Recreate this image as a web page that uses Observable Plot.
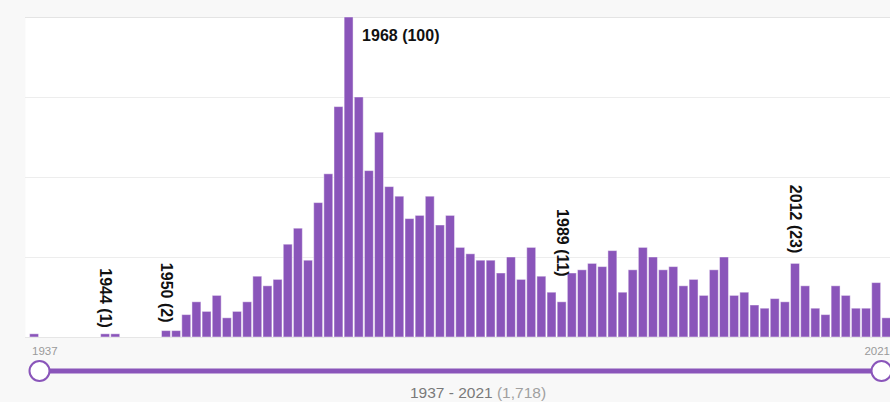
<!DOCTYPE html>
<html>
<head>
<meta charset="utf-8">
<script src="https://cdn.jsdelivr.net/npm/d3@7"></script>
<script src="https://cdn.jsdelivr.net/npm/@observablehq/plot@0.6"></script>
<style>
  html, body { margin: 0; padding: 0; background: #f8f8f8; width: 890px; height: 402px; overflow: hidden; font-family: "Liberation Sans", Arial, sans-serif; }
  #chart svg { display: block; overflow: visible; }
</style>
</head>
<body>
<div id="chart"></div>
<div id="slider"></div>
<script>
// Years covered by the histogram
const years = d3.range(1937, 2022);
// Count per year (1937 ... 2021)
const counts = [
  1, 0, 0, 0, 0, 0, 0, 1, 1, 0,          // 1937-1946
  0, 0, 0, 2, 2, 7, 11, 8, 13, 6,        // 1947-1956
  8, 11, 19, 16, 18, 29, 34, 24, 42, 51, // 1957-1966
  72, 100, 75, 52, 64, 47, 44, 37, 38, 44, // 1967-1976
  35, 38, 28, 26, 24, 24, 20, 25, 18, 28, // 1977-1986
  19, 14, 11, 20, 21, 23, 22, 27, 14, 21, // 1987-1996
  28, 25, 21, 22, 16, 18, 13, 21, 25, 13, // 1997-2006
  14, 10, 9, 12, 11, 23, 16, 9, 7, 16,    // 2007-2016
  13, 9, 9, 17, 6                         // 2017-2021
];
// Annotated years (vertical labels) and where, in count units, each label ends
const labelYears = [1944, 1950, 1989, 2012];
const labelAnchor = [3, 4.7, 19, 26.3];
// Peak annotation
const peakYear = 1968;

const rows = years.map((year, i) => ({year, count: counts[i]}));
const byYear = new Map(rows.map(d => [d.year, d.count]));
const labels = labelYears.map((year, i) => ({year, at: labelAnchor[i], text: `${year} (${byYear.get(year)})`}));
const peak = [{year: peakYear, count: byYear.get(peakYear), text: `${peakYear} (${byYear.get(peakYear)})`}];
const total = d3.sum(counts);

const purple = "#8a55ba";

const chart = Plot.plot({
  width: 890,
  height: 340,
  marginTop: 17,
  marginBottom: 3,
  marginLeft: 25,
  marginRight: 0,
  style: {background: "transparent", fontFamily: "'Liberation Sans', Arial, sans-serif"},
  x: {type: "band", domain: years, range: [28.4, 892], padding: 0.12, round: false, axis: null},
  y: {domain: [0, 100], axis: null},
  marks: [
    Plot.frame({fill: "white", stroke: "none"}),
    Plot.ruleY([25, 50, 75], {stroke: "#ededed"}),
    Plot.ruleY([100], {stroke: "#e4e4e4"}),
    Plot.barY(rows.filter(d => d.count > 0), {x: "year", y: "count", fill: purple, stroke: "white", strokeOpacity: 0.45, strokeWidth: 1}),
    Plot.ruleY([0], {stroke: "#e6e6e6"}),
    Plot.text(labels, {x: "year", y: "at", text: "text", rotate: 90, textAnchor: "end", lineAnchor: "middle", fontSize: 16, fontWeight: "bold", fill: "#111"}),
    Plot.text(peak, {x: "year", y: "count", text: "text", textAnchor: "start", lineAnchor: "middle", dx: 13, dy: 18, fontSize: 16, fontWeight: "bold", fill: "#111"})
  ]
});
document.getElementById("chart").appendChild(chart);

// Range slider below the chart
const s = d3.select("#slider").append("svg").attr("width", 890).attr("height", 62).style("display", "block").style("overflow", "visible");
s.append("text").attr("x", 32).attr("y", 15).attr("font-size", 11.5).attr("fill", "#9a9a9a").text(years[0]);
s.append("text").attr("x", 890).attr("y", 15).attr("text-anchor", "end").attr("font-size", 11.5).attr("fill", "#9a9a9a").text(years[years.length - 1]);
s.append("line").attr("x1", 40).attr("x2", 881).attr("y1", 31).attr("y2", 31).attr("stroke", purple).attr("stroke-width", 5);
for (const cx of [39.5, 881.5]) {
  s.append("circle").attr("cx", cx).attr("cy", 31).attr("r", 10).attr("fill", "white").attr("stroke", purple).attr("stroke-width", 2);
}
const cap = s.append("text").attr("x", 478).attr("y", 58).attr("text-anchor", "middle").attr("font-size", 15.5).attr("fill", "#7a7a7a");
cap.append("tspan").text(`${years[0]} - ${years[years.length - 1]} `);
cap.append("tspan").attr("fill", "#a0a0a0").text(`(${d3.format(",")(total)})`);
</script>
</body>
</html>
